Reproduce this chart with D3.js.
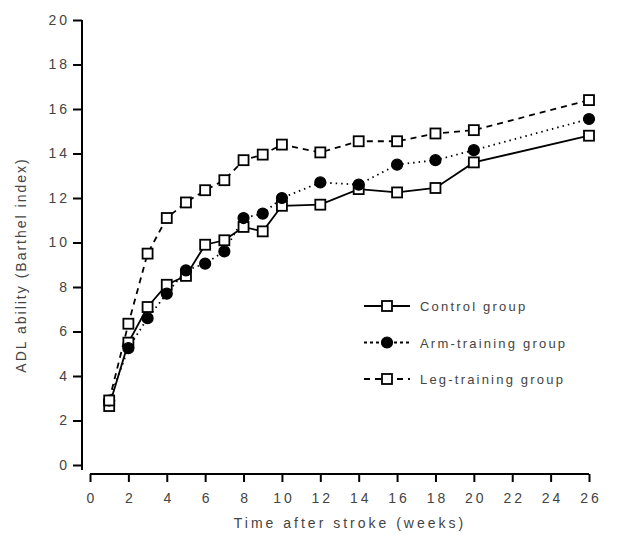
<!DOCTYPE html>
<html>
<head>
<meta charset="utf-8">
<script src="https://cdn.jsdelivr.net/npm/d3@7"></script>
<style>
  body { margin: 0; background: #fff; }
  svg text { font-family: "Liberation Sans", "DejaVu Sans", sans-serif; fill: #444; }
</style>
</head>
<body>
<div id="chart"></div>
<script>
// data
const weeks = [1, 2, 3, 4, 5, 6, 7, 8, 9, 10, 12, 14, 16, 18, 20, 26];
const control = [2.65, 5.5, 7.1, 8.1, 8.5, 9.9, 10.1, 10.7, 10.5, 11.65, 11.7, 12.4, 12.25, 12.45, 13.6, 14.8];
const armTraining = [2.9, 5.25, 6.6, 7.7, 8.75, 9.05, 9.6, 11.1, 11.3, 12.0, 12.7, 12.6, 13.5, 13.7, 14.15, 15.55];
const legTraining = [2.9, 6.35, 9.5, 11.1, 11.8, 12.35, 12.8, 13.7, 13.95, 14.4, 14.05, 14.55, 14.55, 14.9, 15.05, 16.4];
const xTicks = d3.range(0, 27, 2);
const yTicks = d3.range(0, 21, 2);

const series = [
  {name: "Control group", values: control, dash: null, fill: "#fff", shape: "square"},
  {name: "Arm-training group", values: armTraining, dash: "1.5,4", fill: "#000", shape: "circle"},
  {name: "Leg-training group", values: legTraining, dash: "6,5", fill: "#fff", shape: "square"}
];

const W = 619, H = 535;
const svg = d3.select("#chart").append("svg")
  .attr("width", W).attr("height", H);

const x = d3.scaleLinear().domain([0, 26]).range([90, 589]);
const y = d3.scaleLinear().domain([0, 20]).range([465, 20]);

// y axis (offset Prism style)
const yAxis = svg.append("g")
  .attr("transform", "translate(82,0)")
  .call(d3.axisLeft(y).tickValues(yTicks).tickSize(9).tickPadding(3));
yAxis.select(".domain").attr("stroke-width", 2).attr("d", `M0,${y(20)}V${y(0) + 5}`);
yAxis.selectAll(".tick line").attr("stroke-width", 2);
yAxis.selectAll("text").attr("font-size", 14).attr("fill", "#444")
  .attr("letter-spacing", "3px");

// x axis
const xAxis = svg.append("g")
  .attr("transform", "translate(0,474)")
  .call(d3.axisBottom(x).tickValues(xTicks).tickSize(8).tickPadding(11));
xAxis.select(".domain").attr("stroke-width", 2).attr("d", `M${x(0)},0H${x(26)}`);
xAxis.selectAll(".tick line").attr("stroke-width", 2);
xAxis.selectAll("text").attr("font-size", 14).attr("fill", "#444")
  .attr("letter-spacing", "3px").attr("dx", "1.5px");

// axis titles
svg.append("text")
  .attr("text-anchor", "middle")
  .attr("transform", `translate(26,265) rotate(-90)`)
  .attr("font-size", 14)
  .attr("letter-spacing", "2px")
  .text("ADL ability (Barthel index)");

svg.append("text")
  .attr("text-anchor", "middle")
  .attr("x", 350).attr("y", 528)
  .attr("font-size", 14)
  .attr("letter-spacing", "3px")
  .text("Time after stroke (weeks)");

const line = d3.line()
  .x((d, i) => x(weeks[i]))
  .y(d => y(d));

function drawMarker(g, s, cx, cy) {
  if (s.shape === "square") {
    g.append("rect")
      .attr("x", cx - 5).attr("y", cy - 5)
      .attr("width", 10).attr("height", 10)
      .attr("fill", s.fill).attr("stroke", "#000").attr("stroke-width", 1.8);
  } else {
    g.append("circle")
      .attr("cx", cx).attr("cy", cy).attr("r", 5.5)
      .attr("fill", s.fill).attr("stroke", "#000").attr("stroke-width", 1.2);
  }
}

// lines first, markers on top
series.forEach(s => {
  svg.append("path")
    .datum(s.values)
    .attr("fill", "none")
    .attr("stroke", "#000")
    .attr("stroke-width", 1.8)
    .attr("stroke-dasharray", s.dash)
    .attr("d", line);
});

series.forEach(s => {
  const g = svg.append("g");
  s.values.forEach((v, i) => drawMarker(g, s, x(weeks[i]), y(v)));
});

// legend
const legend = svg.append("g");
series.forEach((s, i) => {
  const ly = 306 + i * 36.5;
  legend.append("line")
    .attr("x1", 364).attr("x2", 410)
    .attr("y1", ly).attr("y2", ly)
    .attr("stroke", "#000").attr("stroke-width", 1.8)
    .attr("stroke-dasharray", s.dash ? (s.shape === "circle" ? "3,3" : "6,5") : null);
  drawMarker(legend, s, 387, ly);
  legend.append("text")
    .attr("x", 420).attr("y", ly + 5)
    .attr("font-size", 13)
    .attr("letter-spacing", "2.2px")
    .text(s.name);
});
</script>
</body>
</html>
